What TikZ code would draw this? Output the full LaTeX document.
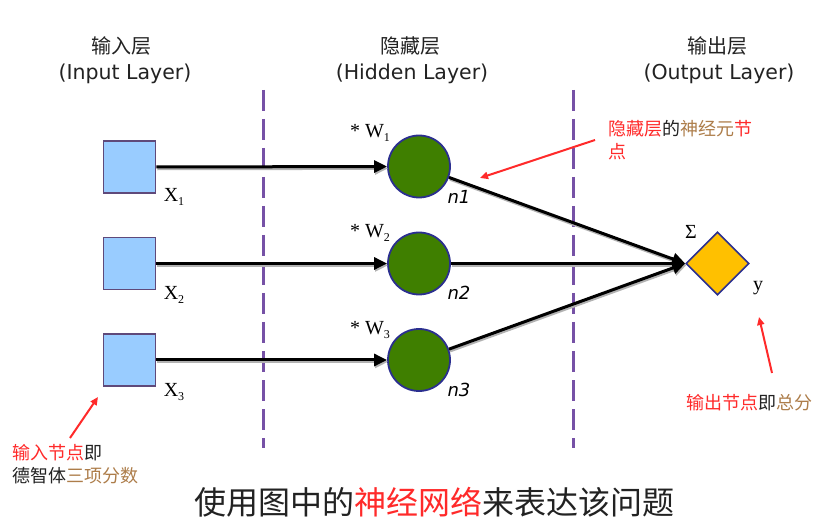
\documentclass[tikz,border=0pt]{standalone}
\usepackage{fontspec}
\setmainfont{DejaVu Sans}
\newfontfamily\cjk{Noto Sans CJK SC}
\newfontfamily\serifx{Liberation Serif}
\usetikzlibrary{arrows.meta,shapes.geometric}
\definecolor{sqfill}{HTML}{99CCFF}
\definecolor{sqline}{HTML}{5F497A}
\definecolor{circfill}{HTML}{3F7F00}
\definecolor{navyline}{HTML}{2B2F8F}
\definecolor{diafill}{HTML}{FFC000}
\definecolor{dashcol}{HTML}{7651A6}
\definecolor{annred}{HTML}{FF2A2A}
\definecolor{annbrown}{HTML}{AD7D4A}
\definecolor{txtdark}{HTML}{222222}
\tikzset{
  inbox/.style={rectangle, draw=sqline, fill=sqfill, line width=1.6pt, minimum size=52pt, inner sep=0pt},
  hidnode/.style={circle, draw=navyline, fill=circfill, line width=1.8pt, minimum size=62pt, inner sep=0pt},
  outnode/.style={diamond, aspect=1, draw=navyline, fill=diafill, line width=1.6pt, minimum size=63pt, inner sep=0pt},
  conn/.style={line width=3pt, black, -{Triangle[length=13pt,width=12pt]},
    preaction={draw=black!30, line width=3pt, transform canvas={xshift=1pt,yshift=-1.8pt}}},
  annarrow/.style={line width=2pt, annred, -{Triangle[length=8pt,width=7pt]}},
  divider/.style={dashcol, line width=3pt, dash pattern=on 21pt off 8pt},
  hdrcn/.style={font=\cjk\fontsize{20}{24}\selectfont, text=txtdark, inner sep=0pt},
  hdren/.style={font=\fontsize{20.5}{24}\selectfont, text=txtdark, inner sep=0pt},
  sublab/.style={font=\serifx\fontsize{20}{22}\selectfont, text=black, inner sep=0pt},
  nlab/.style={font=\itshape\fontsize{18}{20}\selectfont, text=black, inner sep=0pt},
  anntext/.style={font=\cjk\fontsize{18}{23}\selectfont, align=left, inner sep=0pt},
}
\newcommand{\subx}[2]{#1\raisebox{-0.35ex}{\fontsize{12}{12}\selectfont #2}}
\begin{document}
\begin{tikzpicture}[x=1pt,y=-1pt]
\useasboundingbox[fill=white] (0,0) rectangle (835,526);

% headers
\node[hdrcn] (hin) at (121,46) {输入层};
\node[hdren] (hine) at (125,74) {(Input Layer)};
\node[hdrcn] (hhid) at (410,46) {隐藏层};
\node[hdren] (hhide) at (412,74) {(Hidden Layer)};
\node[hdrcn] (hout) at (717,46) {输出层};
\node[hdren] (houte) at (719,74) {(Output Layer)};

% dividers
\coordinate (d1a) at (263,90);
\coordinate (d1b) at (263,448);
\coordinate (d2a) at (573,90);
\coordinate (d2b) at (573,448);
\draw[divider] (d1a) -- (d1b);
\draw[divider] (d2a) -- (d2b);

% nodes
\node[inbox] (x1) at (129.5,167) {};
\node[inbox] (x2) at (129.5,263.5) {};
\node[inbox] (x3) at (129.5,360) {};
\node[hidnode] (h1) at (419,166.5) {};
\node[hidnode] (h2) at (419,263.5) {};
\node[hidnode] (h3) at (419,360) {};
\node[outnode] (out) at (717.5,263.5) {};

% connectors
\draw[conn] (x1) -- (h1);
\draw[conn] (x2) -- (h2);
\draw[conn] (x3) -- (h3);
\draw[conn] (h1) -- (out.west);
\draw[conn] (h2) -- (out.west);
\draw[conn] (h3) -- (out.west);

% labels
\node[sublab] (lx1) at (174,197) {\subx{X}{1}};
\node[sublab] (lx2) at (174,295) {\subx{X}{2}};
\node[sublab] (lx3) at (174,392) {\subx{X}{3}};
\node[sublab] (lw1) at (370,133) {* \subx{W}{1}};
\node[sublab] (lw2) at (370,233) {* \subx{W}{2}};
\node[sublab] (lw3) at (370,330) {* \subx{W}{3}};
\node[nlab] (ln1) at (459,197) {n1};
\node[nlab] (ln2) at (459,292.5) {n2};
\node[nlab] (ln3) at (459,390) {n3};
\node[sublab] (lsig) at (691,232) {Σ};
\node[sublab] (ly) at (758,288) {y};

% annotations
\node[anntext, anchor=north west] (ahid) at (608,120)
  {\textcolor{annred}{隐藏层}\textcolor{txtdark}{的}\textcolor{annbrown}{神经元}\textcolor{annred}{节}\\\textcolor{annred}{点}};
\coordinate (ahs) at (595,140);
\coordinate (ahe) at (480,178);
\draw[annarrow] (ahs) -- (ahe);

\node[anntext, anchor=north west] (ain) at (12,444)
  {\textcolor{annred}{输入节点}\textcolor{txtdark}{即}\\\textcolor{txtdark}{德智体}\textcolor{annbrown}{三项分数}};
\coordinate (ais) at (70,438);
\coordinate (aie) at (98,397);
\draw[annarrow] (ais) -- (aie);

\node[anntext, anchor=west] (aout) at (686,403)
  {\textcolor{annred}{输出节点}\textcolor{txtdark}{即}\textcolor{annbrown}{总分}};
\coordinate (aos) at (772,373);
\coordinate (aoe) at (759,317);
\draw[annarrow] (aos) -- (aoe);

% title
\node[font=\cjk\fontsize{32}{36}\selectfont, text=txtdark, inner sep=0pt] (title) at (434,502)
  {使用图中的\textcolor{annred}{神经网络}来表达该问题};
\end{tikzpicture}
\end{document}
